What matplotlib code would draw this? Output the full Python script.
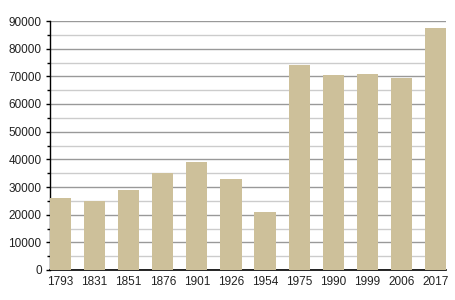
import matplotlib
matplotlib.use("Agg")
import matplotlib.pyplot as plt
from matplotlib.ticker import MultipleLocator

years = ["1793", "1831", "1851", "1876", "1901", "1926", "1954", "1975", "1990", "1999", "2006", "2017"]
population = [26100, 24900, 28900, 35200, 39100, 33000, 21100, 74100, 70500, 70800, 69400, 87400]

plt.rcParams['font.family'] = ['Liberation Sans', 'DejaVu Sans']
fig = plt.figure(figsize=(4.55, 3.0), dpi=100)
ax = fig.add_axes([50/455, 30/300, 396/455, 249/300])

w = 0.62
x = list(range(len(years)))
ax.bar(x, population, width=w, color='#cdc09a', zorder=3)
ax.set_xlim(-w/2, len(years) - 1 + w/2)
ax.set_ylim(0, 90000)
ax.set_xticks(x)
ax.set_xticklabels(years)
ax.yaxis.set_major_locator(MultipleLocator(10000))
ax.yaxis.set_minor_locator(MultipleLocator(5000))
ax.grid(axis='y', which='major', color='#999999', linewidth=1.0, zorder=0)
ax.grid(axis='y', which='minor', color='#cccccc', linewidth=1.0, zorder=0)
for s in ['top', 'right']:
    ax.spines[s].set_visible(False)
ax.spines['left'].set_linewidth(1.0)
ax.spines['bottom'].set_linewidth(1.2)
ax.tick_params(axis='x', length=0, pad=4, labelsize=8.5, colors='#222222')
ax.tick_params(axis='y', which='major', length=3, width=1, pad=3, labelsize=8.5, colors='black', labelcolor='#222222')
ax.tick_params(axis='y', which='minor', length=2, width=1)

fig.savefig("out.png", dpi=100)
